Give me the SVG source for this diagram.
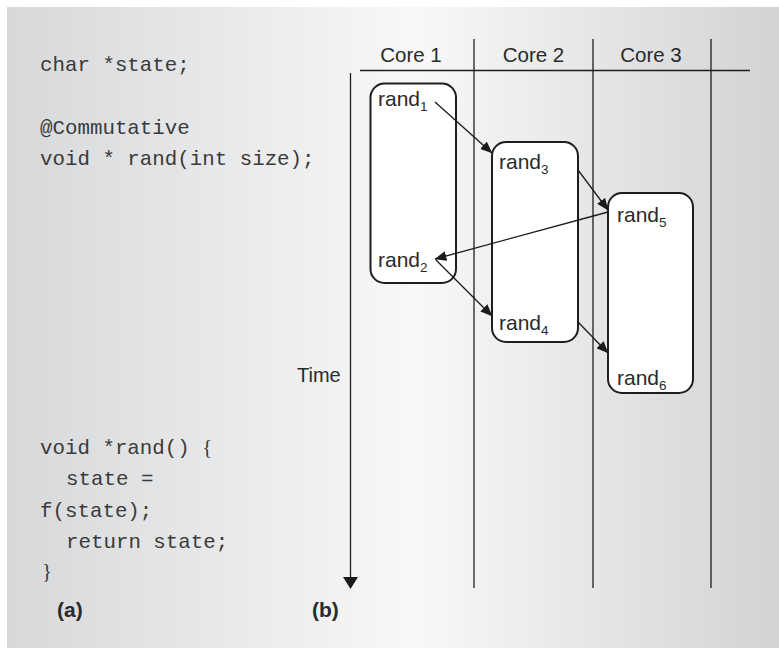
<svg xmlns="http://www.w3.org/2000/svg" width="779" height="648" viewBox="0 0 779 648">
<defs>
<linearGradient id="bg" x1="0" y1="0" x2="1" y2="0">
<stop offset="0" stop-color="#d7d8da"/>
<stop offset="0.53" stop-color="#f8f8f8"/>
<stop offset="1" stop-color="#d2d3d5"/>
</linearGradient>
<marker id="ah" viewBox="0 0 12 10" refX="11.5" refY="5" markerWidth="12" markerHeight="10" markerUnits="userSpaceOnUse" orient="auto">
<path d="M0,0 L12,5 L0,10 z" fill="#1a1a1a"/>
</marker>
<style>
.code{font-family:"Liberation Mono","Courier New",monospace;font-size:20.8px;fill:#3a3a3a}
.brace{font-family:"Liberation Serif","Times New Roman",serif}
.lbl{font-family:"Liberation Sans",Arial,sans-serif;font-size:21px;fill:#2a2a2a}
.sub{font-size:13.5px}
.hdr{font-family:"Liberation Sans",Arial,sans-serif;font-size:20.5px;fill:#2a2a2a;text-anchor:middle}
.cap{font-family:"Liberation Sans",Arial,sans-serif;font-size:21px;font-weight:bold;fill:#2a2a2a}
.box{fill:#ffffff;stroke:#1e1e1e;stroke-width:2}
.grid{stroke:#1e1e1e;stroke-width:1.3;fill:none}
.conn{stroke:#1a1a1a;stroke-width:1.3;fill:none;marker-end:url(#ah)}
</style>
</defs>
<rect x="0" y="0" width="779" height="648" fill="#ffffff"/>
<rect x="7" y="7" width="772" height="641" fill="url(#bg)"/>

<g id="code-a">
<text class="code" x="40" y="71">char *state;</text>
<text class="code" x="40" y="134">@Commutative</text>
<text class="code" x="40" y="165">void * rand(int size);</text>
<text class="code" x="40" y="454">void *rand() <tspan class="brace">{</tspan></text>
<text class="code" x="66" y="485">state =</text>
<text class="code" x="40" y="517">f(state);</text>
<text class="code" x="66" y="548">return state;</text>
<text class="code brace" x="42" y="578">}</text>
<text class="cap" x="57" y="617">(a)</text>
</g>

<g id="grid">
<line class="grid" x1="360" y1="70.5" x2="750" y2="70.5"/>
<line class="grid" x1="474" y1="39" x2="474" y2="588"/>
<line class="grid" x1="593" y1="39" x2="593" y2="588"/>
<line class="grid" x1="711" y1="39" x2="711" y2="588"/>
<text class="hdr" x="411" y="62">Core 1</text>
<text class="hdr" x="533.5" y="62">Core 2</text>
<text class="hdr" x="651" y="62">Core 3</text>
</g>

<g id="time-axis">
<line class="grid" x1="350.5" y1="73" x2="350.5" y2="578"/>
<polygon points="343,577 358,577 350.5,589" fill="#1a1a1a"/>
<text class="lbl" x="297" y="382" style="font-size:20px">Time</text>
<text class="cap" x="312" y="617">(b)</text>
</g>

<g id="core1-box">
<rect class="box" x="370.5" y="83.5" width="85.5" height="199.5" rx="14"/>
<text class="lbl" x="378" y="106">rand<tspan class="sub" dy="5">1</tspan></text>
<text class="lbl" x="378" y="267">rand<tspan class="sub" dy="5">2</tspan></text>
</g>

<g id="core2-box">
<rect class="box" x="492" y="142" width="86" height="200" rx="14"/>
<text class="lbl" x="499" y="169">rand<tspan class="sub" dy="5">3</tspan></text>
<text class="lbl" x="499" y="330">rand<tspan class="sub" dy="5">4</tspan></text>
</g>

<g id="core3-box">
<rect class="box" x="608" y="193" width="85" height="200" rx="14"/>
<text class="lbl" x="617" y="222">rand<tspan class="sub" dy="5">5</tspan></text>
<text class="lbl" x="617" y="385">rand<tspan class="sub" dy="5">6</tspan></text>
</g>

<g id="connectors">
<line class="conn" x1="435" y1="102" x2="492" y2="153"/>
<line class="conn" x1="578" y1="170" x2="608" y2="210"/>
<line class="conn" x1="608" y1="212" x2="435" y2="259"/>
<line class="conn" x1="436" y1="260" x2="492" y2="316"/>
<line class="conn" x1="578" y1="322" x2="608" y2="353"/>
</g>
</svg>
